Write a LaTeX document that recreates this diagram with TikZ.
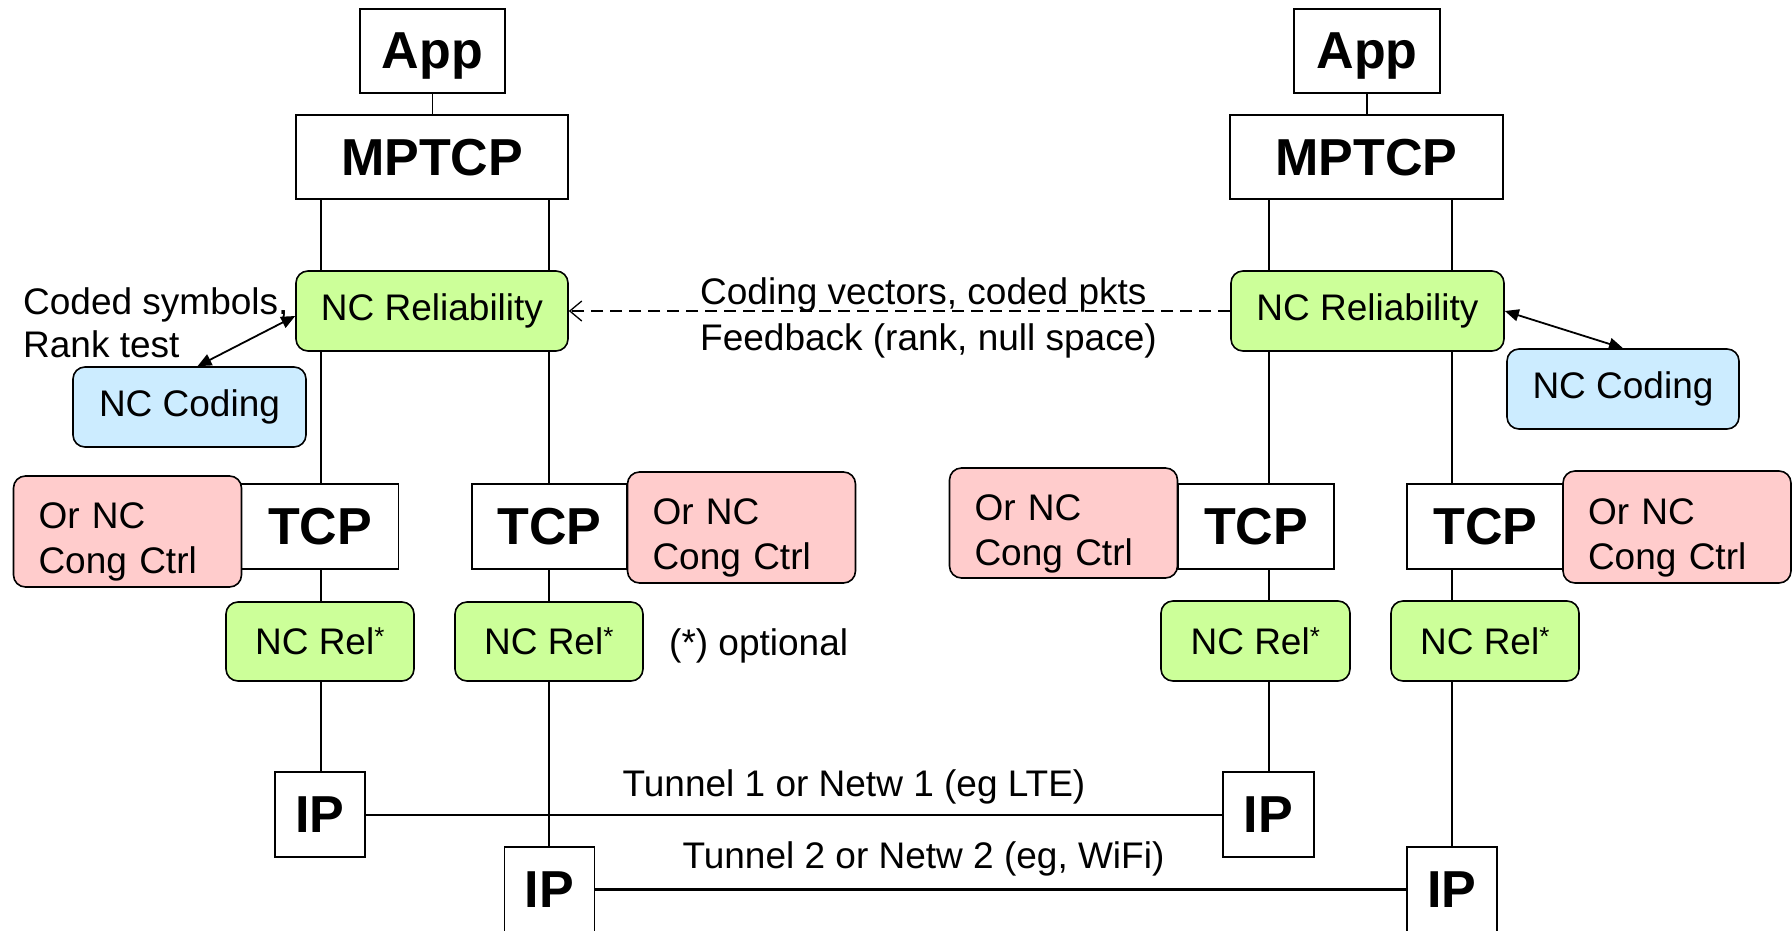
\documentclass[tikz,border=0pt]{standalone}
\usepackage{fontspec}
\setmainfont{Liberation Sans}
\usetikzlibrary{arrows.meta}
\definecolor{ncgreen}{HTML}{CCFF99}
\definecolor{ncblue}{HTML}{CCECFF}
\definecolor{ncpink}{HTML}{FFCCCC}
\newcommand{\pktext}{\raisebox{3pt}[0pt][0pt]{\begin{tabular}[t]{@{}l@{}}Or NC\\Cong Ctrl\end{tabular}}}
\begin{document}
\begin{tikzpicture}[x=1pt,y=-1pt,
  sqbox/.style={draw=black, line width=1.6pt, fill=white, inner sep=0pt, text depth=0pt,
    font=\fontsize{52}{60}\selectfont\bfseries},
  rbox/.style={draw=black, line width=1.6pt, rounded corners=12pt, inner sep=0pt,
    font=\fontsize{37}{44}\selectfont},
  grbox/.style={rbox, fill=ncgreen},
  blbox/.style={rbox, fill=ncblue},
  pkbox/.style={rbox, fill=ncpink, align=left, inner xsep=25pt, inner ysep=0pt, text width=178pt,
    font=\fontsize{37}{45}\selectfont},
  lbl/.style={inner sep=0pt, font=\fontsize{37}{44}\selectfont},
  vline/.style={line width=1.3pt},
  vlinethick/.style={line width=2.2pt},
  dblarrow/.style={line width=1.8pt, {Triangle[length=14pt,width=12pt]}-{Triangle[length=14pt,width=12pt]}},
  dasharrow/.style={line width=1.3pt, dash pattern=on 12pt off 7pt, -{Straight Barb[length=12pt,width=20pt]}},
  tunnelone/.style={line width=2pt},
  tunneltwo/.style={line width=2.8pt}
]
\fill[white] (0,0) rectangle (1792,930);
\useasboundingbox (0,0) rectangle (1792,930);
\clip (0,0) rectangle (1792,930);

% ---------- left stack ----------
\node[sqbox, minimum width=145pt, minimum height=84pt] (appL) at (432.5,51) {App};
\node[sqbox, minimum width=272pt, minimum height=84pt] (mpL) at (432,157) {MPTCP};
\node[grbox, minimum width=272pt, minimum height=80pt] (ncrL) at (432,311) {NC Reliability};
\node[blbox, minimum width=233pt, minimum height=80pt] (nccL) at (189.5,407) {NC Coding};
\node[sqbox, minimum width=157pt, minimum height=85pt] (tcpL1) at (320,526.5) {TCP};
\node[pkbox, minimum height=111pt] (pkL1) at (127.5,531.5) {\pktext};
\node[grbox, minimum width=188pt, minimum height=79pt] (nrL1) at (320,641.5) {NC Rel\textsuperscript{*}};
\node[sqbox, minimum width=90pt, minimum height=85pt] (ipL1) at (320,814.5) {IP};
\node[sqbox, minimum width=155pt, minimum height=85pt] (tcpL2) at (549.5,526.5) {TCP};
\node[pkbox, minimum height=111pt] (pkL2) at (741.5,527.5) {\pktext};
\node[grbox, minimum width=188pt, minimum height=79pt] (nrL2) at (549,641.5) {NC Rel\textsuperscript{*}};
\node[sqbox, minimum width=90pt, minimum height=85pt] (ipL2) at (549.5,889.5) {IP};

% ---------- right stack ----------
\node[sqbox, minimum width=146pt, minimum height=84pt] (appR) at (1367,51) {App};
\node[sqbox, minimum width=273pt, minimum height=84pt] (mpR) at (1366.5,157) {MPTCP};
\node[grbox, minimum width=273pt, minimum height=80pt] (ncrR) at (1367.5,311) {NC Reliability};
\node[blbox, minimum width=232pt, minimum height=80pt] (nccR) at (1623,389) {NC Coding};
\node[sqbox, minimum width=156pt, minimum height=85pt] (tcpR1) at (1256,526.5) {TCP};
\node[pkbox, minimum height=110pt] (pkR1) at (1063.5,523) {\pktext};
\node[grbox, minimum width=189pt, minimum height=80pt] (nrR1) at (1255.5,641) {NC Rel\textsuperscript{*}};
\node[sqbox, minimum width=91pt, minimum height=85pt] (ipR1) at (1268.5,814.5) {IP};
\node[sqbox, minimum width=157pt, minimum height=85pt] (tcpR2) at (1485.5,526.5) {TCP};
\node[pkbox, minimum height=112pt] (pkR2) at (1677,527) {\pktext};
\node[grbox, minimum width=188pt, minimum height=80pt] (nrR2) at (1485,641) {NC Rel\textsuperscript{*}};
\node[sqbox, minimum width=90pt, minimum height=85pt] (ipR2) at (1452,889.5) {IP};

% ---------- free texts ----------
\node[lbl, anchor=base west] (cs) at (23,314) {Coded symbols,};
\node[lbl, anchor=base west] (rt) at (23,357) {Rank test};
\node[lbl, anchor=base west] (cv) at (700,304) {Coding vectors, coded pkts};
\node[lbl, anchor=base west] (fb) at (700,350) {Feedback (rank, null space)};
\node[lbl, anchor=base west] (opt) at (669,655) {(*) optional};
\node[lbl, anchor=base] (t1) at (854,796) {Tunnel 1 or Netw 1 (eg LTE)};
\node[lbl, anchor=base] (t2) at (923.5,868) {Tunnel 2 or Netw 2 (eg, WiFi)};

% ---------- vertical line positions ----------
\coordinate (xa) at (321,0);
\coordinate (xb) at (549,0);
\coordinate (xc) at (1269,0);
\coordinate (xd) at (1452,0);

% left stack connectors
\draw[vline] (appL.south) -- (appL.south |- mpL.north);
\draw[vline] (mpL.south -| xa) -- (ncrL.north -| xa);
\draw[vline] (mpL.south -| xb) -- (ncrL.north -| xb);
\draw[vline] (ncrL.south -| xa) -- (tcpL1.north -| xa);
\draw[vline] (ncrL.south -| xb) -- (tcpL2.north -| xb);
\draw[vline] (tcpL1.south -| xa) -- (nrL1.north -| xa);
\draw[vline] (nrL1.south -| xa) -- (ipL1.north -| xa);
\draw[vline] (tcpL2.south -| xb) -- (nrL2.north -| xb);
\draw[vline] (nrL2.south -| xb) -- (ipL2.north -| xb);

% right stack connectors
\draw[vline] (appR.south) -- (appR.south |- mpR.north);
\draw[vlinethick] (mpR.south -| xc) -- (ncrR.north -| xc);
\draw[vline] (mpR.south -| xd) -- (ncrR.north -| xd);
\draw[vlinethick] (ncrR.south -| xc) -- (tcpR1.north -| xc);
\draw[vline] (ncrR.south -| xd) -- (tcpR2.north -| xd);
\draw[vlinethick] (tcpR1.south -| xc) -- (nrR1.north -| xc);
\draw[vlinethick] (nrR1.south -| xc) -- (ipR1.north -| xc);
\draw[vline] (tcpR2.south -| xd) -- (nrR2.north -| xd);
\draw[vline] (nrR2.south -| xd) -- (ipR2.north -| xd);

% arrows
\draw[dblarrow] ([yshift=-5pt]ncrL.west) -- ([xshift=8pt]nccL.north);
\draw[dblarrow] (ncrR.east) -- (nccR.north);
\draw[dasharrow] (ncrR.west) -- (ncrL.east);

% tunnels
\draw[tunnelone] (ipL1.east) -- (ipR1.west);
\draw[tunneltwo] (ipL2.east) -- (ipR2.west);
\end{tikzpicture}
\end{document}
